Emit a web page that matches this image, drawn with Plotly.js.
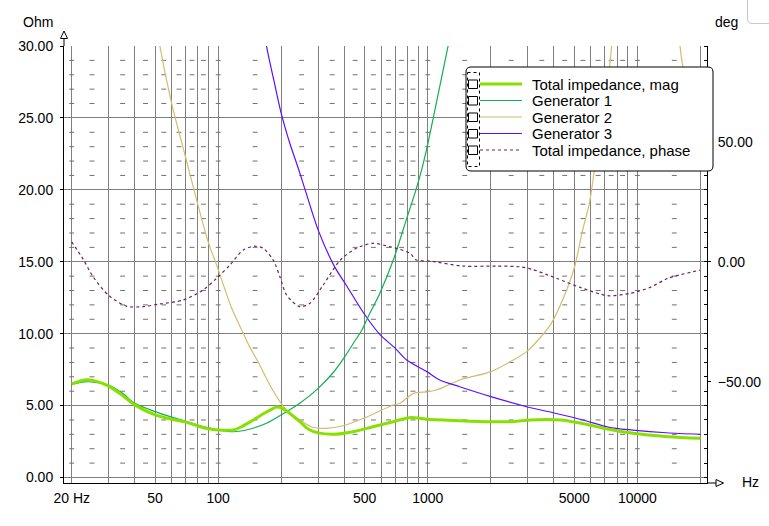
<!DOCTYPE html>
<html>
<head>
<meta charset="utf-8">
<script src="https://cdn.plot.ly/plotly-3.0.1.min.js"></script>
<style>
  body { margin: 0; background: #ffffff; }
  #chart { width: 769px; height: 526px; }
</style>
</head>
<body>
<div id="chart"></div>
<script>
// Значения

// Total impedance, mag (Ohm)
const magFreq = [20, 23, 26, 30, 35, 40, 50, 60, 70, 80, 90, 100, 118, 130, 147, 170, 190, 200, 220, 245, 270, 300, 354, 440, 547, 685, 820, 1000, 1420, 2000, 2560, 3080, 4300, 5400, 7300, 9500, 14000, 20000];
const magOhm = [6.5, 6.78, 6.7, 6.35, 5.7, 5.05, 4.35, 4.05, 3.85, 3.58, 3.38, 3.3, 3.3, 3.55, 4.0, 4.55, 4.9, 4.85, 4.45, 3.88, 3.35, 3.1, 3.0, 3.18, 3.53, 3.88, 4.16, 4.05, 3.95, 3.88, 3.88, 4.0, 4.0, 3.77, 3.35, 3.07, 2.84, 2.73];

// Generator 1 (Ohm)
const gen1Freq = [20, 23, 26, 30, 35, 40, 50, 60, 70, 80, 90, 100, 118, 142, 170, 200, 245, 300, 354, 400, 440, 485, 520, 590, 684, 793, 878, 935, 1000, 1115, 1250, 1320];
const gen1Ohm = [6.48, 6.65, 6.62, 6.43, 5.85, 5.16, 4.58, 4.2, 3.9, 3.65, 3.45, 3.3, 3.18, 3.37, 3.77, 4.35, 5.16, 6.2, 7.3, 8.35, 9.3, 10.26, 11.2, 12.8, 15.1, 18.0, 20.0, 21.4, 23.2, 26.5, 30.0, 31.5];

// Generator 2 (Ohm)
const gen2Freq = [48, 52.7, 60, 69.8, 78.9, 89.5, 98.9, 116, 131, 141, 155, 180, 208, 245, 278, 329, 394, 495, 684, 736, 855, 990, 1100, 1420, 2000, 2560, 2960, 3360, 3880, 4500, 5020, 5480, 5900, 6240, 6800, 7400, 7540, 9000, 11000, 13500, 15960, 16370, 18000, 20000, 21500];
const gen2Ohm = [34, 30.0, 26.0, 22.3, 19.3, 16.4, 14.66, 11.76, 10.1, 9.1, 8.05, 6.2, 4.81, 4.0, 3.53, 3.42, 3.6, 4.12, 5.04, 5.16, 5.85, 5.95, 6.08, 6.78, 7.36, 8.17, 8.75, 9.56, 10.7, 12.7, 14.66, 17.2, 19.06, 21.4, 25.0, 28.8, 30.0, 38, 40, 36, 30.0, 28.8, 26.0, 23.5, 22.5];

// Generator 3 (Ohm)
const gen3Freq = [160, 170, 185, 200, 220, 241, 259, 300, 359, 407, 496, 590, 700, 793, 990, 1140, 1420, 2000, 2960, 3960, 5490, 7320, 9500, 13700, 20000];
const gen3Ohm = [32.6, 30.0, 27.5, 25.3, 23.2, 21.5, 20.07, 17.2, 14.66, 13.4, 11.4, 9.95, 8.98, 8.17, 7.36, 6.78, 6.31, 5.62, 4.92, 4.5, 4.0, 3.49, 3.3, 3.11, 3.0];

// Total impedance, phase (deg)
const phaseFreq = [20, 22.7, 25.3, 29.9, 36.4, 43.7, 52.6, 67.9, 84.6, 98.2, 113.6, 131.6, 149, 164, 183, 197, 212, 245, 274, 317, 382, 456, 547, 660, 710, 823, 882, 1020, 1470, 2130, 2740, 3160, 4110, 5330, 6660, 7330, 9200, 11500, 14000, 19900];
const phaseDeg = [8.3, 1.0, -6.25, -13.9, -18.5, -18.75, -17.6, -16.0, -11.8, -6.9, -1.4, 4.9, 6.5, 5.6, 0.7, -6.25, -13.9, -18.75, -17.3, -9.7, 0.7, 5.6, 7.7, 6.25, 5.6, 3.5, 0.7, 0.3, -1.8, -1.8, -2.1, -3.2, -6.9, -10.7, -13.5, -14.2, -13.2, -10.7, -6.9, -3.5];

// Сетка и подписи оси X
const gridFreq = [20, 30, 40, 50, 60, 70, 80, 90, 100, 200, 300, 400, 500, 600, 700, 800, 900, 1000, 2000, 3000, 4000, 5000, 6000, 7000, 8000, 9000, 10000, 20000];
const labelFreq = [20, 50, 100, 500, 1000, 5000, 10000];
const labelText = ["20 Hz", "50", "100", "500", "1000", "5000", "10000"];

// Пунктир промежуточной сетки
const dashFreq = [20, 25, 35, 45, 55, 65, 75, 85, 100, 150, 250, 350, 450, 550, 650, 750, 850, 1000, 1500, 2500, 3500, 4500, 5500, 6500, 7500, 8500, 10000, 15000];
const dashOhm = [1, 2, 3, 4, 6, 7, 8, 9, 11, 12, 13, 14, 16, 17, 18, 19, 21, 22, 23, 24, 26, 27, 28, 29];

const seriesNames = ["Total impedance, mag", "Generator 1", "Generator 2", "Generator 3", "Total impedance, phase"];
const seriesColors = ["#86e000", "#10b050", "#d4bc6e", "#5a10ff", "#6a2458"];

// Геометрия (пиксели окна)
const L = 64, R = 707, T = 46, B = 483;
const FONT = "Liberation Sans, Arial, sans-serif";

function px(x) { return (x - L) / (R - L); }
function py(y) { return (B - y) / (B - T); }

function roundRectPath(x0, y0, x1, y1, r) {
  const p = (x, y) => px(x) + "," + py(y);
  return "M" + p(x0 + r, y0) + " L" + p(x1 - r, y0) + " Q" + p(x1, y0) + " " + p(x1, y0 + r) +
    " L" + p(x1, y1 - r) + " Q" + p(x1, y1) + " " + p(x1 - r, y1) +
    " L" + p(x0 + r, y1) + " Q" + p(x0, y1) + " " + p(x0, y1 - r) +
    " L" + p(x0, y0 + r) + " Q" + p(x0, y0) + " " + p(x0 + r, y0) + " Z";
}

// Трассы
const dashX = [];
const dashY = [];
for (let o of dashOhm) {
  for (let f of dashFreq) {
    dashX.push(f);
    dashY.push(o);
  }
}

const traces = [
  {
    x: dashX, y: dashY, mode: "markers", hoverinfo: "skip", showlegend: false,
    marker: { symbol: "line-ew", size: 3.5, color: "#707070", line: { width: 1, color: "#707070" } },
  },
  { x: gen2Freq, y: gen2Ohm, name: seriesNames[2], mode: "lines", line: { color: seriesColors[2], width: 1.2, shape: "spline", smoothing: 0.8 } },
  { x: gen3Freq, y: gen3Ohm, name: seriesNames[3], mode: "lines", line: { color: seriesColors[3], width: 1.2, shape: "spline", smoothing: 0.8 } },
  { x: gen1Freq, y: gen1Ohm, name: seriesNames[1], mode: "lines", line: { color: seriesColors[1], width: 1.2, shape: "spline", smoothing: 0.8 } },
  { x: magFreq, y: magOhm, name: seriesNames[0], mode: "lines", line: { color: seriesColors[0], width: 3, shape: "spline", smoothing: 0.8 } },
  {
    x: phaseFreq, y: phaseDeg, name: seriesNames[4], mode: "lines", yaxis: "y2",
    line: { color: seriesColors[4], width: 1.2, dash: "3px,3px", shape: "spline", smoothing: 0.8 },
  },
];

// Легенда и оформление (рисуем вручную, как в оригинале)
const shapes = [];
const annotations = [];

// стрелки осей
shapes.push({ type: "line", xref: "paper", yref: "paper", x0: 0, x1: 0, y0: 1, y1: py(38), line: { color: "#000", width: 1 } });
shapes.push({
  type: "path", xref: "paper", yref: "paper", fillcolor: "#fff", line: { color: "#000", width: 1 },
  path: "M" + px(64) + "," + py(31) + " L" + px(60.5) + "," + py(38.5) + " L" + px(67.5) + "," + py(38.5) + " Z",
});
shapes.push({ type: "line", xref: "paper", yref: "paper", x0: 1, x1: px(716), y0: 0, y1: 0, line: { color: "#000", width: 1 } });
shapes.push({
  type: "path", xref: "paper", yref: "paper", fillcolor: "#fff", line: { color: "#000", width: 1 },
  path: "M" + px(723.5) + "," + py(483) + " L" + px(716) + "," + py(479.5) + " L" + px(716) + "," + py(486.5) + " Z",
});

// уголок в правом верхнем углу
shapes.push({
  type: "path", xref: "paper", yref: "paper", line: { color: "#c8c8c8", width: 1 },
  path: "M" + px(747.5) + "," + py(-2) + " L" + px(747.5) + "," + py(19) + " Q" + px(747.5) + "," + py(23.5) + " " +
    px(752) + "," + py(23.5) + " L" + px(772) + "," + py(23.5),
});

// рамка легенды
shapes.push({
  type: "path", xref: "paper", yref: "paper", fillcolor: "#fff", line: { color: "#000", width: 1 },
  path: roundRectPath(466, 67, 713, 171, 5),
});
shapes.push({
  type: "rect", xref: "paper", yref: "paper", x0: px(467.5), x1: px(479.5), y0: py(72.5), y1: py(166.5),
  line: { color: "#000", width: 1, dash: "dot" },
});

const rowY0 = 84;
const rowGap = 16.5;
const legendLines = [
  { color: seriesColors[0], width: 3, dash: "solid" },
  { color: seriesColors[1], width: 1.2, dash: "solid" },
  { color: seriesColors[2], width: 1.2, dash: "solid" },
  { color: seriesColors[3], width: 1.2, dash: "solid" },
  { color: seriesColors[4], width: 1.2, dash: "3px,3px" },
];

for (let i = 0; i < seriesNames.length; i++) {
  const cy = rowY0 + i * rowGap;
  shapes.push({
    type: "rect", xref: "paper", yref: "paper", x0: px(468.5), x1: px(477.5), y0: py(cy - 4), y1: py(cy + 4.5),
    line: { color: "#000", width: 1 }, fillcolor: "#fff",
  });
  shapes.push({
    type: "line", xref: "paper", yref: "paper", x0: px(480), x1: px(522), y0: py(cy), y1: py(cy),
    line: legendLines[i],
  });
  annotations.push({
    xref: "paper", yref: "paper", x: px(530), y: py(cy), xanchor: "left", yanchor: "middle",
    text: seriesNames[i], showarrow: false, font: { family: FONT, size: 15, color: "#000" },
  });
}

// подписи единиц
const unitFont = { family: FONT, size: 14, color: "#000" };
annotations.push({ xref: "paper", yref: "paper", x: px(37.5), y: py(22), xanchor: "center", yanchor: "middle", text: "Ohm", showarrow: false, font: unitFont });
annotations.push({ xref: "paper", yref: "paper", x: px(726.5), y: py(22), xanchor: "center", yanchor: "middle", text: "deg", showarrow: false, font: unitFont });
annotations.push({ xref: "paper", yref: "paper", x: px(750), y: py(482), xanchor: "center", yanchor: "middle", text: "Hz", showarrow: false, font: unitFont });

const tickText = gridFreq.map((f) => {
  const k = labelFreq.indexOf(f);
  return k >= 0 ? labelText[k] : "";
});

const layout = {
  width: 769,
  height: 526,
  margin: { l: L, r: 769 - R, t: T, b: 526 - B, pad: 0 },
  paper_bgcolor: "#fff",
  plot_bgcolor: "#fff",
  showlegend: false,
  font: { family: FONT, size: 14, color: "#000" },
  xaxis: {
    type: "log",
    range: [1.2643, 4.3321],
    tickvals: gridFreq,
    ticktext: tickText,
    ticks: "",
    showgrid: true,
    gridcolor: "#808080",
    gridwidth: 1,
    showline: true,
    linecolor: "#000",
    linewidth: 1,
    zeroline: false,
    tickfont: { family: FONT, size: 14, color: "#000" },
    ticklabelstandoff: 2,
  },
  yaxis: {
    range: [-0.383, 30],
    tickvals: [0, 5, 10, 15, 20, 25, 30],
    tickformat: ".2f",
    ticks: "outside",
    ticklen: 3,
    tickcolor: "#000",
    showgrid: true,
    gridcolor: "#808080",
    gridwidth: 1,
    showline: true,
    linecolor: "#000",
    linewidth: 1,
    zeroline: false,
    tickfont: { family: FONT, size: 14, color: "#000" },
    ticklabelstandoff: 4,
  },
  yaxis2: {
    overlaying: "y",
    side: "right",
    range: [-92.29, 90],
    tickvals: [-50, 0, 50],
    tickformat: ".2f",
    ticks: "outside",
    ticklen: 3,
    tickcolor: "#000",
    minor: { dtick: 6, ticks: "inside", ticklen: 3, tickcolor: "#000", showgrid: false },
    showgrid: false,
    showline: true,
    linecolor: "#000",
    linewidth: 1,
    zeroline: false,
    tickfont: { family: FONT, size: 14, color: "#000" },
    ticklabelstandoff: 4,
  },
  shapes: shapes,
  annotations: annotations,
};

Plotly.newPlot("chart", traces, layout, { displayModeBar: false, staticPlot: true });
</script>
</body>
</html>
